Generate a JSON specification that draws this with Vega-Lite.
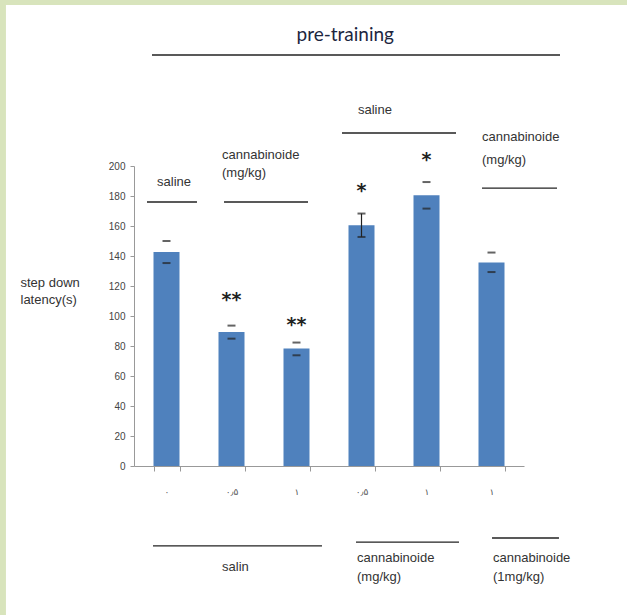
{
  "$schema": "https://vega.github.io/schema/vega-lite/v6.json",
  "width": 390,
  "height": 300,
  "autosize": {"type": "none"},
  "padding": {"left": 134, "top": 166, "right": 103, "bottom": 149},
  "background": "#d8e4bc",
  "config": {
    "view": {"stroke": null},
    "font": "Liberation Sans",
    "axisY": {
      "grid": false,
      "tickSize": 4,
      "tickColor": "#999999",
      "domainColor": "#999999",
      "labelFont": "Liberation Sans",
      "labelFontSize": 10,
      "labelColor": "#444444",
      "labelPadding": 5,
      "labelOverlap": false
    }
  },
  "datasets": {
    "bars": [
      {"id": 1, "v": 142.7, "lo": 135.3, "hi": 150.0, "stem": false},
      {"id": 2, "v": 89.3, "lo": 84.9, "hi": 93.6, "stem": false},
      {"id": 3, "v": 78.3, "lo": 73.8, "hi": 82.3, "stem": false},
      {"id": 4, "v": 160.5, "lo": 152.7, "hi": 168.3, "stem": true},
      {"id": 5, "v": 180.5, "lo": 171.6, "hi": 189.3, "stem": false},
      {"id": 6, "v": 135.6, "lo": 129.3, "hi": 142.3, "stem": false}
    ],
    "stars": [
      {"id": 2, "s": "**", "y": 107},
      {"id": 3, "s": "**", "y": 90.3},
      {"id": 4, "s": "*", "y": 179.6},
      {"id": 5, "s": "*", "y": 200.3}
    ],
    "frame": [{"x": -1.97, "x2": 8, "y": 307.3, "y2": -120}],
    "title": [{"x": 2.5, "y": 287.3, "t": "pre-training"}],
    "labels": [
      {"x": 0.354, "y": 189.3, "t": "saline"},
      {"x": 1.354, "y": 207.3, "t": "cannabinoide"},
      {"x": 1.354, "y": 195.3, "t": "(mg/kg)"},
      {"x": 3.446, "y": 237.3, "t": "saline"},
      {"x": 5.354, "y": 219.3, "t": "cannabinoide"},
      {"x": 5.354, "y": 204.0, "t": "(mg/kg)"},
      {"x": 1.354, "y": -67.3, "t": "salin"},
      {"x": 3.431, "y": -61.3, "t": "cannabinoide"},
      {"x": 3.431, "y": -74.0, "t": "(mg/kg)"},
      {"x": 5.523, "y": -61.3, "t": "cannabinoide"},
      {"x": 5.523, "y": -74.0, "t": "(1mg/kg)"}
    ],
    "lines": [
      {"x": 0.277, "x2": 6.554, "y": 274.0},
      {"x": 0.2, "x2": 0.969, "y": 176.0},
      {"x": 1.385, "x2": 2.677, "y": 176.0},
      {"x": 3.2, "x2": 4.954, "y": 222.0},
      {"x": 5.354, "x2": 6.508, "y": 185.3},
      {"x": 0.292, "x2": 2.892, "y": -53.3},
      {"x": 3.415, "x2": 5.0, "y": -50.7},
      {"x": 5.508, "x2": 6.538, "y": -48.0}
    ]
  },
  "layer": [
    {
      "layer": [
        {
          "data": {"name": "frame"},
          "mark": {"type": "rect", "color": "#ffffff"},
          "encoding": {
            "x": {"field": "x", "type": "quantitative", "scale": {"domain": [0, 6], "nice": false, "zero": false}, "axis": null},
            "x2": {"field": "x2"},
            "y": {"field": "y", "type": "quantitative", "scale": {"domain": [0, 200], "nice": false, "zero": false}, "axis": null},
            "y2": {"field": "y2"}
          }
        },
        {
          "data": {"name": "lines"},
          "mark": {"type": "rule", "color": "#222222", "strokeWidth": 1.3},
          "encoding": {
            "x": {"field": "x", "type": "quantitative", "axis": null},
            "x2": {"field": "x2"},
            "y": {"field": "y", "type": "quantitative", "axis": null}
          }
        },
        {
          "data": {"name": "labels"},
          "mark": {"type": "text", "align": "left", "baseline": "middle", "fontSize": 13, "color": "#333333", "font": "Liberation Sans"},
          "encoding": {
            "x": {"field": "x", "type": "quantitative", "axis": null},
            "y": {"field": "y", "type": "quantitative", "axis": null},
            "text": {"field": "t"}
          }
        },
        {
          "data": {"name": "title"},
          "mark": {"type": "text", "align": "left", "baseline": "middle", "fontSize": 19, "color": "#1c2640", "font": "Lato"},
          "encoding": {
            "x": {"field": "x", "type": "quantitative", "axis": null},
            "y": {"field": "y", "type": "quantitative", "axis": null},
            "text": {"field": "t"}
          }
        }
      ]
    },
    {
      "layer": [
        {
          "data": {"name": "bars"},
          "mark": {"type": "bar", "color": "#4f81bd"},
          "encoding": {
            "x": {
              "field": "id", "type": "ordinal",
              "scale": {"paddingInner": 0.6, "paddingOuter": 0.3},
              "axis": {
                "title": null,
                "zindex": 1,
                "labelAngle": 0,
                "labelExpr": "['۰','۰٫۵','۱','۰٫۵','۱','۱'][datum.value - 1]",
                "labelFont": "DejaVu Sans",
                "labelFontSize": 9,
                "labelColor": "#555555",
                "labelPadding": 16,
                "tickBand": "extent",
                "tickSize": 5,
                "tickColor": "#999999",
                "domainColor": "#999999"
              }
            },
            "y": {
              "field": "v", "type": "quantitative",
              "scale": {"domain": [0, 200], "nice": false},
              "axis": {
                "zindex": 1,
                "values": [0, 20, 40, 60, 80, 100, 120, 140, 160, 180, 200],
                "title": ["step down", "latency(s)"],
                "titleAngle": 0,
                "titleAlign": "left",
                "titleBaseline": "top",
                "titleX": -114,
                "titleY": 110,
                "titleFont": "Liberation Sans",
                "titleFontSize": 13,
                "titleFontWeight": "normal",
                "titleColor": "#333333",
                "titleLineHeight": 17
              }
            }
          }
        },
        {
          "data": {"name": "bars"},
          "transform": [{"filter": "datum.stem"}],
          "mark": {"type": "rule", "color": "#222222", "strokeWidth": 1.2},
          "encoding": {
            "x": {"field": "id", "type": "ordinal"},
            "y": {"field": "lo", "type": "quantitative", "axis": {"zindex": 1, "values": [0, 20, 40, 60, 80, 100, 120, 140, 160, 180, 200]}},
            "y2": {"field": "hi"}
          }
        },
        {
          "data": {"name": "bars"},
          "mark": {"type": "tick", "color": "#222222", "size": 8, "thickness": 2},
          "encoding": {
            "x": {"field": "id", "type": "ordinal"},
            "y": {"field": "lo", "type": "quantitative", "axis": {"zindex": 1, "values": [0, 20, 40, 60, 80, 100, 120, 140, 160, 180, 200]}}
          }
        },
        {
          "data": {"name": "bars"},
          "mark": {"type": "tick", "color": "#222222", "size": 8, "thickness": 2},
          "encoding": {
            "x": {"field": "id", "type": "ordinal"},
            "y": {"field": "hi", "type": "quantitative", "axis": {"zindex": 1, "values": [0, 20, 40, 60, 80, 100, 120, 140, 160, 180, 200]}}
          }
        },
        {
          "data": {"name": "stars"},
          "mark": {"type": "text", "align": "center", "baseline": "alphabetic", "fontSize": 19, "fontWeight": "bold", "color": "#222222", "font": "DejaVu Sans"},
          "encoding": {
            "x": {"field": "id", "type": "ordinal"},
            "y": {"field": "y", "type": "quantitative", "axis": {"zindex": 1, "values": [0, 20, 40, 60, 80, 100, 120, 140, 160, 180, 200]}},
            "text": {"field": "s"}
          }
        }
      ]
    }
  ],
  "resolve": {
    "scale": {"x": "independent", "y": "independent"},
    "axis": {"x": "independent", "y": "independent"}
  }
}
